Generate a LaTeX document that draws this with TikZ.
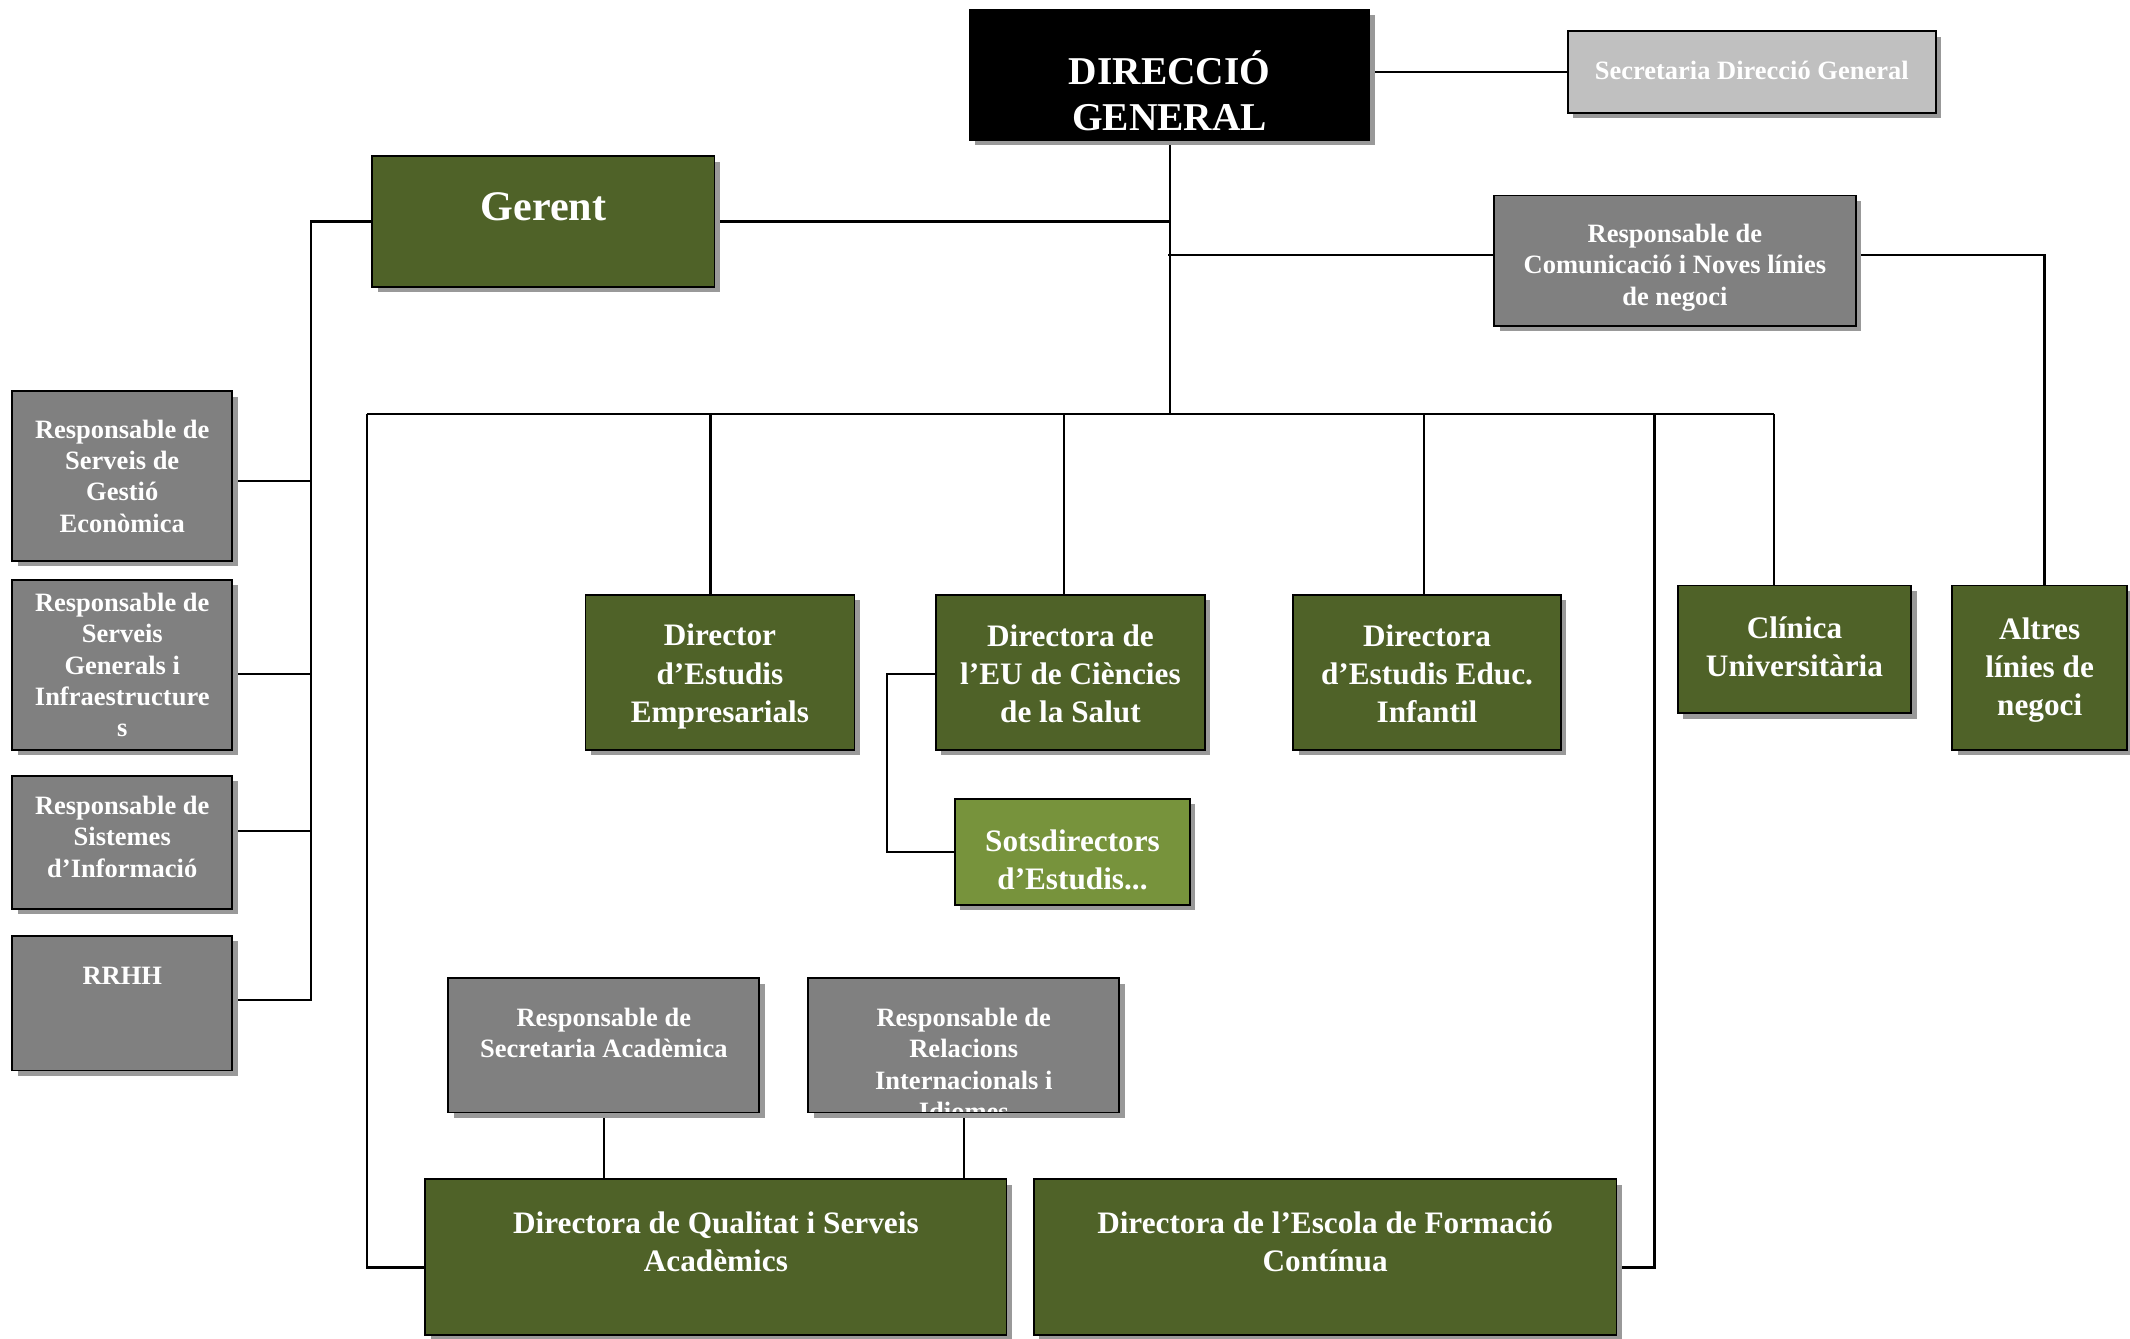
\documentclass[tikz,border=0pt]{standalone}
\usepackage{fontspec}
\setmainfont{Liberation Serif}
\usetikzlibrary{shadows}
\definecolor{dgcol}{HTML}{4F6228}
\definecolor{lgcol}{HTML}{77933C}
\definecolor{grcol}{HTML}{808080}
\definecolor{lgrcol}{HTML}{C0C0C0}
\pgfdeclarelayer{bg}
\pgfsetlayers{bg,main}
\tikzset{
 box/.style={draw=black, line width=1.3pt, inner sep=0pt, outer sep=0pt,
   drop shadow={shadow xshift=4pt, shadow yshift=-4pt, fill=black!40, opacity=1}},
 dgbox/.style={box, fill=dgcol},
 lgbox/.style={box, fill=lgcol},
 grbox/.style={box, fill=grcol},
 lgrbox/.style={box, fill=lgrcol},
 blkbox/.style={box, fill=black},
 txt/.style={text=white, align=center, inner sep=0pt},
 smalltxt/.style={txt, font=\bfseries\fontsize{19.5}{23}\selectfont},
 bigtxt/.style={txt, font=\bfseries\fontsize{23}{28}\selectfont},
 conn/.style={line width=1.6pt, draw=black}
}
\begin{document}
\begin{tikzpicture}[x=1pt,y=-1pt]
\useasboundingbox (0,0) rectangle (1568,985);
% top
\node[blkbox, minimum width=294pt, minimum height=96pt] (dg) at (861,55) {};
\node[txt, font=\bfseries\fontsize{29}{34}\selectfont] (dg-t) at (861,67) {DIRECCIÓ\\GENERAL};
\node[lgrbox, minimum width=271pt, minimum height=60pt] (sdg) at (1289.5,53) {};
\node[smalltxt] (sdg-t) at (1289.5,52) {Secretaria Direcció General};
\node[dgbox, minimum width=252pt, minimum height=96pt] (ger) at (400,163) {};
\node[txt, font=\bfseries\fontsize{31}{36}\selectfont] (ger-t) at (400,152) {Gerent};
\node[grbox, minimum width=266pt, minimum height=96pt] (com) at (1233,192) {};
\node[smalltxt] (com-t) at (1233,197) {Responsable de\\Comunicació i Noves línies\\de negoci};
% left column
\node[grbox, minimum width=162pt, minimum height=125pt] (rsge) at (90,350.5) {};
\node[smalltxt] (rsge-t) at (90,350.5) {Responsable de\\Serveis de\\Gestió\\Econòmica};
\node[grbox, minimum width=162pt, minimum height=125pt] (rsgi) at (90,489.5) {};
\node[smalltxt] (rsgi-t) at (90,489.6) {Responsable de\\Serveis\\Generals i\\Infraestructure\\s};
\node[grbox, minimum width=162pt, minimum height=98pt] (rsi) at (90,620) {};
\node[smalltxt] (rsi-t) at (90,616) {Responsable de\\Sistemes\\d’Informació};
\node[grbox, minimum width=162pt, minimum height=99pt] (rrhh) at (90,738.5) {};
\node[smalltxt] (rrhh-t) at (90,718) {RRHH};
% directors row
\node[dgbox, minimum width=198pt, minimum height=114pt] (dee) at (530,495) {};
\node[bigtxt] (dee-t) at (530,498) {Director\\d’Estudis\\Empresarials};
\node[dgbox, minimum width=198pt, minimum height=114pt] (deu) at (788,495) {};
\node[bigtxt] (deu-t) at (788,496) {Directora de\\l’EU de Ciències\\de la Salut};
\node[dgbox, minimum width=197pt, minimum height=114pt] (dei) at (1050.5,495) {};
\node[bigtxt] (dei-t) at (1050.5,496) {Directora\\d’Estudis Educ.\\Infantil};
\node[dgbox, minimum width=172pt, minimum height=94pt] (cli) at (1321,478) {};
\node[bigtxt] (cli-t) at (1321,476) {Clínica\\Universitària};
\node[dgbox, minimum width=129pt, minimum height=121pt] (alt) at (1501.5,491.5) {};
\node[bigtxt] (alt-t) at (1501.5,493) {Altres\\línies de\\negoci};
\node[lgbox, minimum width=173pt, minimum height=78pt] (sots) at (789.5,627) {};
\node[bigtxt] (sots-t) at (789.5,633) {Sotsdirectors\\d’Estudis...};
% lower
\node[grbox, minimum width=229pt, minimum height=99pt] (rsa) at (444.5,769.5) {};
\node[smalltxt] (rsa-t) at (444.5,760.5) {Responsable de\\Secretaria Acadèmica};
\node[grbox, minimum width=229pt, minimum height=99pt] (rri) at (709.5,769.5) {};
\begin{scope}
\clip (rri.north west) rectangle (rri.south east);
\node[smalltxt] (rri-t) at (709.5,783.5) {Responsable de\\Relacions\\Internacionals i\\Idiomes};
\end{scope}
\draw[line width=1.3pt] (rri.north west) rectangle (rri.south east);
\node[dgbox, minimum width=428pt, minimum height=115pt] (dq) at (527,925.5) {};
\node[bigtxt] (dq-t) at (527,914) {Directora de Qualitat i Serveis\\Acadèmics};
\node[dgbox, minimum width=429pt, minimum height=115pt] (dfc) at (975.5,925.5) {};
\node[bigtxt] (dfc-t) at (975.5,914) {Directora de l’Escola de Formació\\Contínua};
% junction coordinates
\coordinate (busL) at (270,305);
\coordinate (busR) at (1306,305);
\coordinate (lt) at (229,163);
\coordinate (j1) at (229,354);
\coordinate (j2) at (229,496);
\coordinate (j3) at (229,612);
\coordinate (j4) at (229,736);
\coordinate (jcom) at (860,188);
\coordinate (jalt) at (1505,188);
\coordinate (jq) at (270,933);
\coordinate (jee) at (523,305);
\coordinate (jeu) at (783,305);
\coordinate (jei) at (1048,305);
\coordinate (jf) at (1218,305);
\coordinate (jf2) at (1218,933);
\coordinate (js) at (653,496);
\begin{pgfonlayer}{bg}
\draw[conn] (dg.east |- sdg.west) -- (sdg.west);
\draw[conn] (dg.south) -- (dg.south |- busL);
\draw[conn] (ger.east) -- (ger.east -| dg.south);
\draw[conn] (jcom) -- (com.west |- jcom);
\draw[conn] (com.east |- jalt) -- (jalt) -- (jalt |- alt.north);
\draw[conn] (ger.west) -- (lt) -- (j4) -- (rrhh.east |- j4);
\draw[conn] (rsge.east |- j1) -- (j1);
\draw[conn] (rsgi.east |- j2) -- (j2);
\draw[conn] (rsi.east |- j3) -- (j3);
\draw[conn] (busL) -- (busR);
\draw[conn] (busL) -- (jq) -- (dq.west |- jq);
\draw[conn] (jee) -- (jee |- dee.north);
\draw[conn] (jeu) -- (jeu |- deu.north);
\draw[conn] (jei) -- (jei |- dei.north);
\draw[conn] (busR) -- (busR |- cli.north);
\draw[conn] (jf) -- (jf2) -- (dfc.east |- jf2);
\draw[conn] (deu.west |- js) -- (js) |- (sots.west);
\draw[conn] (rsa.south) -- (rsa.south |- dq.north);
\draw[conn] (rri.south) -- (rri.south |- dq.north);
\end{pgfonlayer}
\end{tikzpicture}
\end{document}
